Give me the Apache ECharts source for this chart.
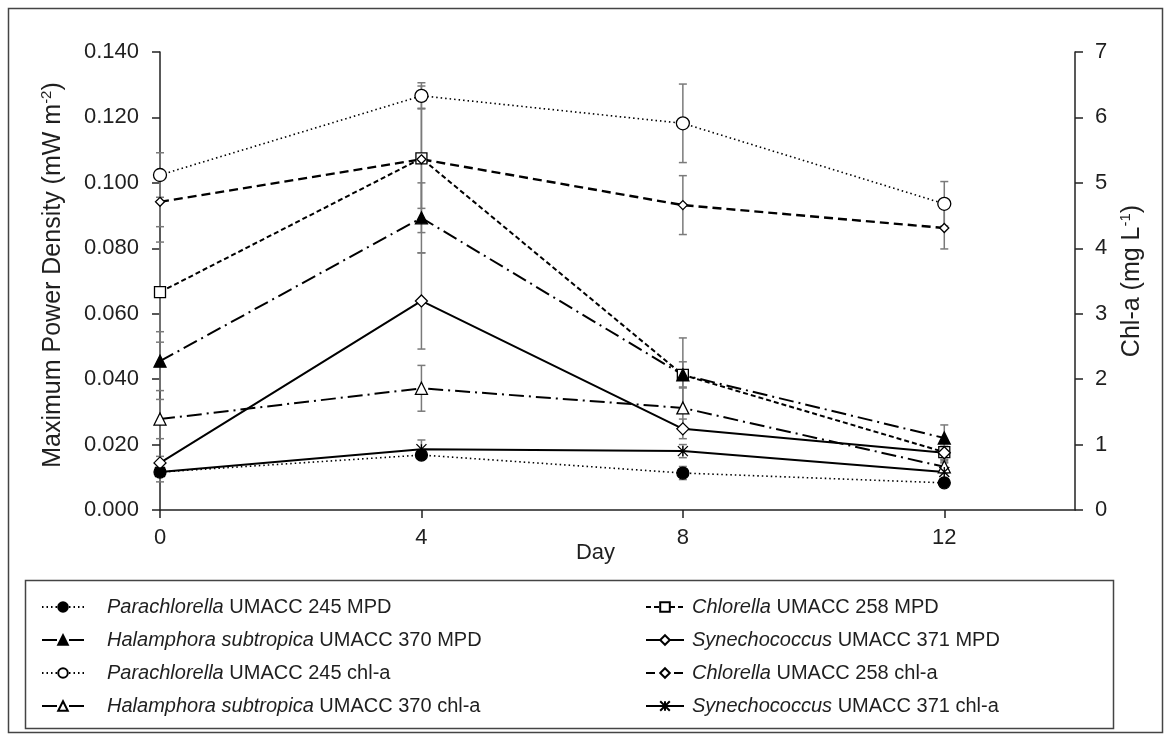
<!DOCTYPE html>
<html>
<head>
<meta charset="utf-8">
<script src="https://cdn.jsdelivr.net/npm/echarts@6/dist/echarts.min.js"></script>
<style>
html,body{margin:0;padding:0;background:#fff;}
#chart{width:1171px;height:739px;}
</style>
</head>
<body>
<div id="chart"></div>
<script>
// ---- data ----
const days = [0, 4, 8, 12];
const xTickLabels = [0, 4, 8, 12];

const paraMPD = [0.0116, 0.0168, 0.0113, 0.0083];
const chloMPD = [0.0666, 0.1075, 0.0413, 0.0177];
const halaMPD = [0.0455, 0.0893, 0.0413, 0.0220];
const synMPD  = [0.0144, 0.0639, 0.0248, 0.0175];
const paraChl = [5.12, 6.33, 5.91, 4.68];
const chloChl = [4.71, 5.36, 4.66, 4.31];
const halaChl = [1.39, 1.86, 1.56, 0.66];
const synChl  = [0.58, 0.93, 0.90, 0.58];

const paraMPDErr = [0.001, 0.001, 0.002, 0.001];
const chloMPDErr = [0.0153, 0.0153, 0.0113, 0.003];
const halaMPDErr = [0.009, 0.0107, 0.004, 0.004];
const synMPDErr  = [0.002, 0.0147, 0.003, 0.002];
const paraChlErr = [0.34, 0.2, 0.6, 0.34];
const chloChlErr = [0.38, 1.12, 0.45, 0.32];
const halaChlErr = [0.3, 0.35, 0.32, 0.1];
const synChlErr  = [0.15, 0.14, 0.1, 0.14];

const seriesNames = [
  'Parachlorella UMACC 245 MPD',
  'Chlorella UMACC 258 MPD',
  'Halamphora subtropica UMACC 370 MPD',
  'Synechococcus UMACC 371 MPD',
  'Parachlorella UMACC 245 chl-a',
  'Chlorella UMACC 258 chl-a',
  'Halamphora subtropica UMACC 370 chl-a',
  'Synechococcus UMACC 371 chl-a'
];
const italicParts = ['Parachlorella','Chlorella','Halamphora subtropica','Synechococcus',
                     'Parachlorella','Chlorella','Halamphora subtropica','Synechococcus'];
const restParts = ['UMACC 245 MPD','UMACC 258 MPD','UMACC 370 MPD','UMACC 371 MPD',
                   'UMACC 245 chl-a','UMACC 258 chl-a','UMACC 370 chl-a','UMACC 371 chl-a'];

// ---- styles ----
const FONT = 'Liberation Sans, Arial, sans-serif';
const INK = '#1f1f1f';
const values = [paraMPD, chloMPD, halaMPD, synMPD, paraChl, chloChl, halaChl, synChl];
const errors = [paraMPDErr, chloMPDErr, halaMPDErr, synMPDErr, paraChlErr, chloChlErr, halaChlErr, synChlErr];
const axisIdx = [0,0,0,0,1,1,1,1];
const dashes = [
  [1.5, 3],          // dotted
  [5, 3],            // short dash
  [15, 5, 2, 5],     // long dash-dot
  'solid',
  [1.5, 3],
  [9, 5],
  [15, 5, 2, 5],
  'solid'
];
const widths = [1.6, 2, 2, 2, 1.6, 2.4, 2, 2];
const symbols = ['circle','rect','triangle','diamond','circle','diamond','triangle',
                 'path://M0,0L10,10M0,10L10,0M5,0L5,10'];
const symSizes = [12, 11, 12, 12, 13, 9, 12, 10];
const fills = ['#000','#fff','#000','#fff','#fff','#fff','#fff','#000'];

function errRender(params, api) {
  const x = api.value(0), y = api.value(1), e = api.value(2);
  const t = api.coord([x, y + e]);
  const b = api.coord([x, y - e]);
  const hw = 4;
  const st = {stroke: '#7a7a7a', lineWidth: 1.5};
  return {type: 'group', children: [
    {type: 'line', shape: {x1: t[0], y1: t[1], x2: b[0], y2: b[1]}, style: st},
    {type: 'line', shape: {x1: t[0]-hw, y1: t[1], x2: t[0]+hw, y2: t[1]}, style: st},
    {type: 'line', shape: {x1: b[0]-hw, y1: b[1], x2: b[0]+hw, y2: b[1]}, style: st}
  ]};
}

const series = [];
values.forEach((vals, k) => {
  series.push({
    type: 'custom',
    name: seriesNames[k] + ' err',
    coordinateSystem: 'cartesian2d',
    yAxisIndex: axisIdx[k],
    renderItem: errRender,
    data: days.map((d, i) => [d, vals[i], errors[k][i]]),
    z: 1,
    silent: true
  });
});
values.forEach((vals, k) => {
  series.push({
    type: 'line',
    name: seriesNames[k],
    yAxisIndex: axisIdx[k],
    data: days.map((d, i) => [d, vals[i]]),
    symbol: symbols[k],
    symbolSize: symSizes[k],
    showAllSymbol: true,
    lineStyle: {color: '#000', width: widths[k], type: dashes[k]},
    itemStyle: {color: fills[k], borderColor: '#000', borderWidth: 1.3},
    z: 3,
    animation: false
  });
});

const richText = {
  i: {fontStyle: 'italic', fontSize: 20, fontFamily: FONT, color: INK},
  n: {fontSize: 20, fontFamily: FONT, color: INK}
};
function legendFmt(name) {
  const i = seriesNames.indexOf(name);
  return '{i|' + italicParts[i] + '}{n| ' + restParts[i] + '}';
}
const legendCommon = {
  orient: 'vertical',
  top: 592,
  itemHeight: 12,
  itemGap: 13,
  formatter: legendFmt,
  selectedMode: false
};
const titleRich = {s: {fontSize: 15, fontFamily: FONT, color: INK, verticalAlign: 'top', lineHeight: 15}};

const option = {
  animation: false,
  backgroundColor: '#fff',
  grid: {left: 160, right: 96, top: 52, bottom: 229, containLabel: false},
  xAxis: {
    type: 'value', min: 0, max: 14, interval: 4,
    name: 'Day', nameLocation: 'middle', nameGap: 32, nameMoveOverlap: false,
    nameTextStyle: {fontSize: 22, fontFamily: FONT, color: INK, padding: [0, 44, 0, 0]},
    axisLine: {lineStyle: {color: '#222', width: 1.5}},
    axisTick: {show: true, length: 8, customValues: xTickLabels, lineStyle: {color: '#222', width: 1.5}},
    axisLabel: {fontSize: 22, fontFamily: FONT, color: INK, margin: 17, customValues: xTickLabels},
    splitLine: {show: false}
  },
  yAxis: [
    {
      type: 'value', min: 0, max: 0.14, interval: 0.02, position: 'left',
      name: 'Maximum Power Density (mW m{s|-2})', nameLocation: 'middle', nameGap: 93, nameRotate: 90,
      nameTextStyle: {fontSize: 25, fontFamily: FONT, color: INK, lineHeight: 28, rich: titleRich,
        padding: [0, 0, 0, 12]},
      axisLine: {show: true, lineStyle: {color: '#222', width: 1.5}},
      axisTick: {show: true, length: 8, lineStyle: {color: '#222', width: 1.5}},
      axisLabel: {fontSize: 22, fontFamily: FONT, color: INK, margin: 21,
        formatter: v => v.toFixed(3)},
      splitLine: {show: false}
    },
    {
      type: 'value', min: 0, max: 7, interval: 1, position: 'right',
      name: 'Chl-a (mg L{s|-1})', nameLocation: 'middle', nameGap: 40, nameRotate: 90,
      nameTextStyle: {fontSize: 25, fontFamily: FONT, color: INK, lineHeight: 28, rich: titleRich},
      axisLine: {show: true, lineStyle: {color: '#222', width: 1.5}},
      axisTick: {show: true, length: 8, lineStyle: {color: '#222', width: 1.5}},
      axisLabel: {fontSize: 22, fontFamily: FONT, color: INK, margin: 20},
      splitLine: {show: false}
    }
  ],
  legend: [
    Object.assign({}, legendCommon, {left: 36, itemWidth: 42,
      textStyle: {rich: richText, lineHeight: 20, padding: [0, 0, 0, 18]},
      data: [seriesNames[0], seriesNames[2], seriesNames[4], seriesNames[6]]}),
    Object.assign({}, legendCommon, {left: 640, itemWidth: 38,
      textStyle: {rich: richText, lineHeight: 20, padding: [0, 0, 0, 3]},
      data: [seriesNames[1], seriesNames[3], seriesNames[5], seriesNames[7]]})
  ],
  graphic: [
    {type: 'rect', shape: {x: 8.5, y: 8.5, width: 1154, height: 724},
     style: {fill: 'none', stroke: '#444', lineWidth: 1.5}, silent: true, z: -1},
    {type: 'rect', shape: {x: 25.5, y: 580.5, width: 1088, height: 148},
     style: {fill: 'none', stroke: '#444', lineWidth: 1.5}, silent: true, z: -1}
  ],
  series: series
};

const chart = echarts.init(document.getElementById('chart'), null, {renderer: 'canvas'});
chart.setOption(option);
</script>
</body>
</html>
